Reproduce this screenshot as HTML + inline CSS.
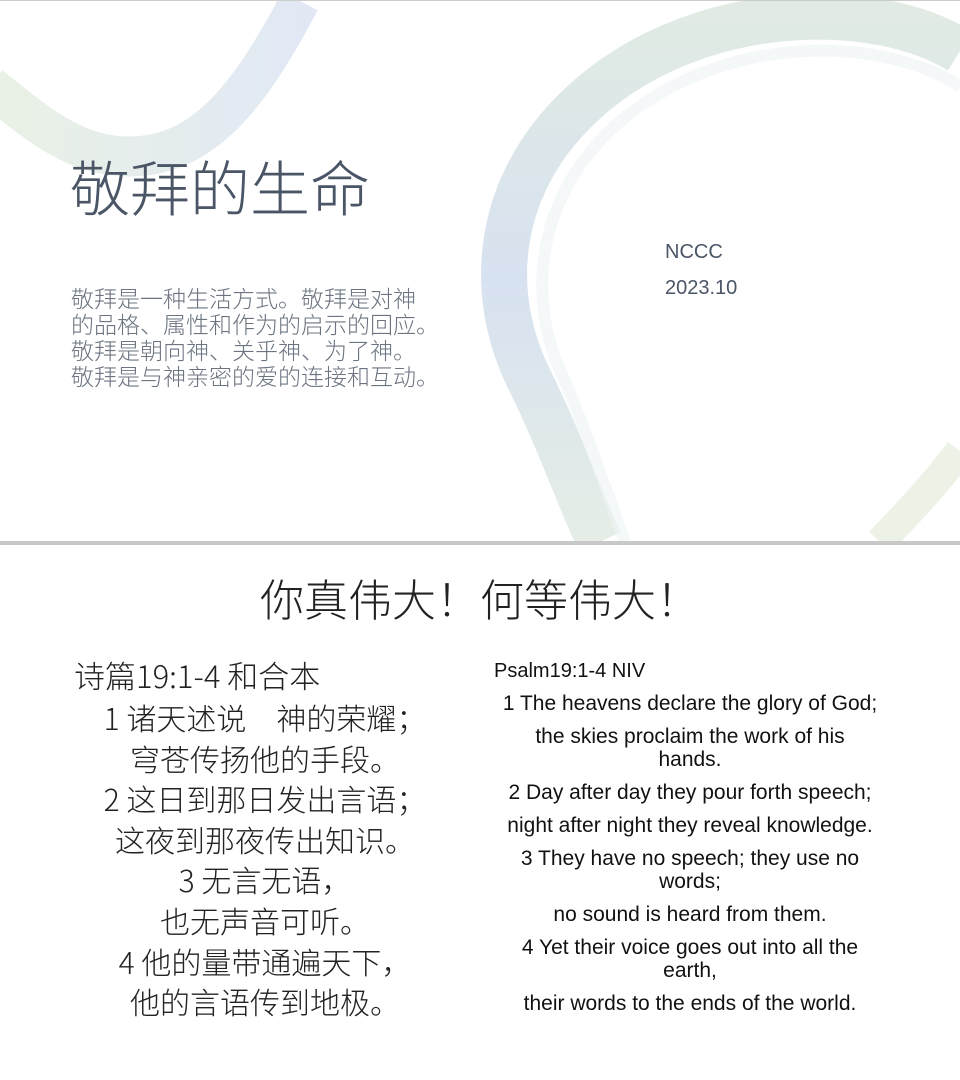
<!DOCTYPE html>
<html><head><meta charset="utf-8"><style>
body{margin:0;width:960px;height:1080px;background:#fff;position:relative;overflow:hidden;font-family:"Liberation Sans","Noto Sans CJK SC",sans-serif}
.abs{position:absolute}
.cn{font-family:"Noto Sans CJK SC","WenQuanYi Zen Hei",sans-serif;font-weight:300}
.en{font-family:"Liberation Sans","Noto Sans CJK SC",sans-serif}
.en div{margin-bottom:10px;white-space:nowrap}
</style></head><body>
<div class="abs" style="left:0;top:0;width:960px;height:541px;border-top:1px solid #ccc;box-sizing:border-box;overflow:hidden">
<svg class="abs" width="960" height="541" style="left:0;top:0">
<defs>
<linearGradient id="g1" x1="0" y1="0" x2="1" y2="0"><stop offset="0" stop-color="#d8e6cf"/><stop offset="1" stop-color="#c9d6ec"/></linearGradient>
<linearGradient id="g2" x1="0" y1="0" x2="0" y2="1"><stop offset="0" stop-color="#d4e2d8"/><stop offset="0.5" stop-color="#c6d5ea"/><stop offset="1" stop-color="#dbe6dc"/></linearGradient>
</defs>
<path d="M-10 85 C40 125 80 160 140 155 C210 150 255 85 300 0" fill="none" stroke="url(#g1)" stroke-width="40" opacity="0.55"/>
<path d="M960 50 C880 0 720 0 610 80 C500 160 480 280 530 380 C560 440 580 500 600 541" fill="none" stroke="url(#g2)" stroke-width="46" opacity="0.7"/>
<path d="M960 85 C880 35 740 35 640 105 C540 175 520 290 565 380 C590 440 610 500 625 541" fill="none" stroke="#eef3f5" stroke-width="12" opacity="0.6"/>
<path d="M960 450 C930 490 900 520 880 541" fill="none" stroke="#e4eddc" stroke-width="30" opacity="0.7"/>
</svg>
<div class="abs cn" style="left:70px;top:148px;font-size:60px;color:#4a5566;line-height:74px">敬拜的生命</div>
<div class="abs cn" style="left:71px;top:283px;width:420px;font-size:23px;color:#6b7480;line-height:26px">敬拜是一种生活方式。敬拜是对神<br>的品格、属性和作为的启示的回应。<br>敬拜是朝向神、关乎神、为了神。<br>敬拜是与神亲密的爱的连接和互动。</div>
<div class="abs en" style="left:665px;top:240px;font-size:20px;color:#4a5566">NCCC</div>
<div class="abs en" style="left:665px;top:276px;font-size:20px;color:#4a5566">2023.10</div>
</div>
<div class="abs" style="left:0;top:541px;width:960px;height:4px;background:#c8c8c8"></div>
<div class="abs" style="left:0;top:545px;width:960px;height:535px">
<div class="abs cn" style="left:12px;top:22px;width:936px;text-align:center;font-size:44px;color:#222;line-height:60px">你真伟大！何等伟大！</div>
<div class="abs cn" style="left:74px;top:111px;font-size:31px;color:#222;line-height:38px">诗篇19:1-4 和合本</div>
<div class="abs cn" style="left:60px;top:152px;width:410px;text-align:center;font-size:30px;color:#222;line-height:40.6px">1 诸天述说　神的荣耀；<br>穹苍传扬他的手段。<br>2 这日到那日发出言语；<br>这夜到那夜传出知识。<br>3 无言无语，<br>也无声音可听。<br>4 他的量带通遍天下，<br>他的言语传到地极。</div>
<div class="abs en" style="left:494px;top:115px;font-size:20px;color:#111">Psalm19:1-4 NIV</div>
<div class="abs en" style="left:490px;top:147px;width:400px;text-align:center;font-size:21px;color:#111;line-height:23px">
<div>1 The heavens declare the glory of God;</div>
<div>the skies proclaim the work of his<br>hands.</div>
<div>2 Day after day they pour forth speech;</div>
<div>night after night they reveal knowledge.</div>
<div>3 They have no speech; they use no<br>words;</div>
<div>no sound is heard from them.</div>
<div>4 Yet their voice goes out into all the<br>earth,</div>
<div>their words to the ends of the world.</div>
</div>
</div>
</body></html>
